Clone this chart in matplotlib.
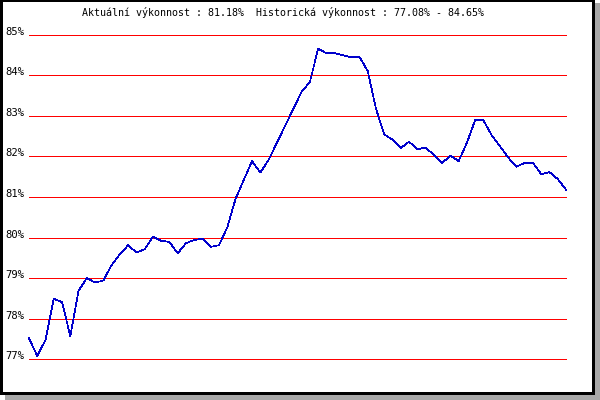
import matplotlib
matplotlib.use("Agg")
import matplotlib.pyplot as plt
from matplotlib.patches import Rectangle
import numpy as np

# performance values (66 samples)
vykon = [77.52, 77.08, 77.48, 78.49, 78.41, 77.57, 78.69, 79.00, 78.89, 78.94,
         79.32, 79.59, 79.81, 79.63, 79.71, 80.02, 79.92, 79.89, 79.61, 79.86,
         79.94, 79.97, 79.77, 79.81, 80.25, 80.95, 81.42, 81.88, 81.60, 81.91,
         82.33, 82.75, 83.17, 83.59, 83.83, 84.65, 84.54, 84.54, 84.49, 84.44,
         84.45, 84.10, 83.17, 82.54, 82.41, 82.20, 82.36, 82.17, 82.22, 82.03,
         81.83, 82.02, 81.88, 82.33, 82.89, 82.89, 82.52, 82.25, 81.97, 81.74,
         81.84, 81.84, 81.56, 81.61, 81.44, 81.18]
urovne = [77, 78, 79, 80, 81, 82, 83, 84, 85]
popisky = ["77%", "78%", "79%", "80%", "81%", "82%", "83%", "84%", "85%"]
nadpis = "Aktuální výkonnost : 81.18%  Historická výkonnost : 77.08% - 84.65%"

W, H = 600, 400
fig = plt.figure(figsize=(6, 4), dpi=100)
fig.patch.set_facecolor("white")

# frame with grey drop shadow
fig.patches.append(Rectangle((5 / W, 0), 595 / W, 397 / H, transform=fig.transFigure,
                             facecolor="#a8a8a8", edgecolor="none", zorder=0))
fig.patches.append(Rectangle((0, 5 / H), 595 / W, 395 / H, transform=fig.transFigure,
                             facecolor="black", edgecolor="none", zorder=1))
fig.patches.append(Rectangle((3 / W, 8 / H), 589 / W, 390 / H, transform=fig.transFigure,
                             facecolor="white", edgecolor="none", zorder=2))

ax = fig.add_axes([29 / W, (H - 359.3) / H, 537 / W, (359.3 - 34.5) / H])
ax.set_zorder(5)
ax.set_facecolor("none")
x = np.arange(len(vykon))

for u in urovne:
    ax.axhline(u, color="#ff0000", lw=0.72, antialiased=False, zorder=1, clip_on=False)
ax.plot(x, vykon, color="#0000cc", lw=0.5, antialiased=False, zorder=2, clip_on=False)

ax.set_xlim(0, len(vykon) - 1)
ax.set_ylim(77, 85)
for s in ax.spines.values():
    s.set_visible(False)
ax.set_xticks([])
ax.set_yticks(urovne)
ax.set_yticklabels(popisky, fontfamily="DejaVu Sans Mono", fontsize=7.6)
ax.tick_params(axis="y", length=0, pad=3)
for lbl in ax.get_yticklabels():
    lbl.set_va("baseline")

fig.text(82 / W, 1 - 13 / H, nadpis, ha="left", va="center", zorder=6,
         fontfamily="DejaVu Sans Mono", fontsize=7.2)

fig.savefig("out.png", dpi=100)
